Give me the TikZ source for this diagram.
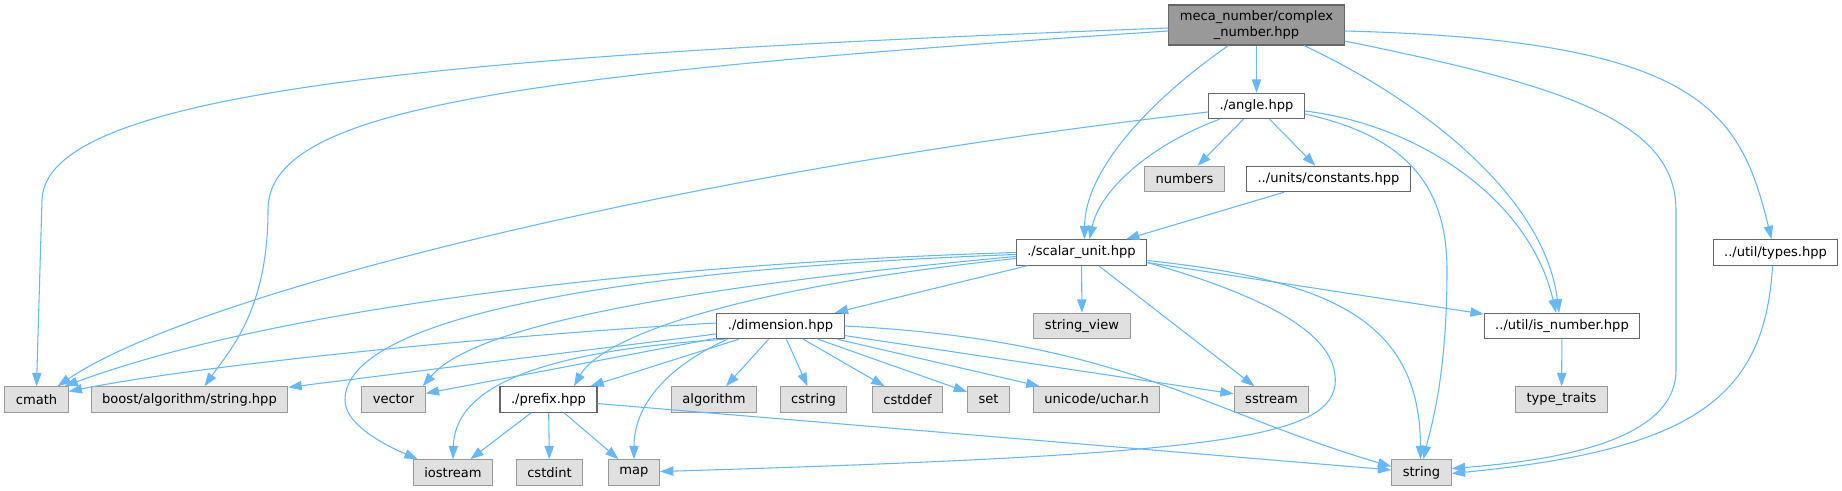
\documentclass[tikz,border=0pt]{standalone}
\usepackage{fontspec}
\setmainfont{DejaVu Sans}
\usetikzlibrary{arrows.meta,calc}
\definecolor{edgeblue}{HTML}{63B8FF}
\definecolor{extfill}{HTML}{E0E0E0}
\definecolor{extdraw}{HTML}{999999}
\definecolor{intdraw}{HTML}{666666}
\definecolor{rootfill}{HTML}{999999}
\tikzset{
    every node/.style={rectangle, draw=intdraw, fill=white, line width=0.8pt,
    	minimum height=19.1pt, inner xsep=8.25pt, inner ysep=0pt,
    	font=\fontsize{9.8}{12}\selectfont}
}
\tikzset{
    dep/.style={draw=edgeblue, line width=0.8pt,
    	-{Triangle[length=10pt,width=7pt]}},
    ext/.style={fill=extfill, draw=extdraw},
    root/.style={fill=rootfill, minimum height=30pt, align=center}
}
\tikzset{
    every edge/.append style={dep}
}

\begin{document}
\begin{tikzpicture}[x=0.75pt, y=-0.75pt]
	\useasboundingbox (0,0) rectangle (1842,491);
	\node (cn) [root] at (1256.5,25) {meca\_number/complex\\\_number.hpp};
	\node (angle) at (1256.5,106) {./angle.hpp};
	\node (numbers) [ext] at (1184.5,179) {numbers};
	\node (constants) at (1328.5,179) {../units/constants.hpp};
	\node (scalar) at (1081.5,252.5) {./scalar\_unit.hpp};
	\node (types) at (1775.5,252.5) {../util/types.hpp};
	\node (dimension) at (780.5,326) {./dimension.hpp};
	\node (strview) [ext] at (1082,326) {string\_view};
	\node (isnum) at (1562,326) {../util/is\_number.hpp};
	\node (cmath) [ext] at (36.5,399.5) {cmath};
	\node (boost) [ext] at (189.5,399.5) {boost/algorithm/string.hpp};
	\node (vector) [ext] at (393.5,399.5) {vector};
	\node (prefix) at (548.5,399.5) {./prefix.hpp};
	\node (algorithm) [ext] at (714,399.5) {algorithm};
	\node (cstring) [ext] at (813.5,399.5) {cstring};
	\node (cstddef) [ext] at (907.5,399.5) {cstddef};
	\node (set) [ext] at (988.5,399.5) {set};
	\node (uchar) [ext] at (1096.5,399.5) {unicode/uchar.h};
	\node (sstream) [ext] at (1271.5,399.5) {sstream};
	\node (traits) [ext] at (1561.5,399.5) {type\_traits};
	\node (iostream) [ext] at (453,472.5) {iostream};
	\node (cstdint) [ext] at (549.5,472.5) {cstdint};
	\node (map) [ext] at (634,472.5) {map};
	\node (string) [ext] at (1421.5,472.5) {string};

	% straight includes
	\draw (cn) edge (angle); \draw (angle) edge (numbers);
	\draw (angle) edge (constants); \draw (constants) edge (scalar);
	\draw (scalar) edge (dimension); \draw (scalar) edge (strview);
	\draw (scalar) edge (sstream); \draw (scalar) edge (isnum);
	\draw (dimension) edge (boost); \draw (dimension) edge (vector);
	\draw (dimension) edge (prefix); \draw (dimension) edge (algorithm);
	\draw (dimension) edge (cstring); \draw (dimension) edge (cstddef);
	\draw (dimension) edge (set); \draw (dimension) edge (uchar);
	\draw (dimension) edge (sstream);
	\draw (prefix) edge (iostream); \draw (prefix) edge (cstdint);
	\draw (prefix) edge (map); \draw (prefix) edge (string);
	\draw (isnum) edge (traits);

	% curved includes
	\draw[dep] ($(cn.west)+(0,3)$) .. controls (450,55) and (45,90) .. (42,200)
		-- (cmath.north);
	\draw[dep] ($(cn.west)+(0,6)$) .. controls (500,75) and (268,110) .. (268,210)
		.. controls (268,310) and (230,350) .. ($(boost.north)+(15,0)$);
	\draw[dep] ($(cn.south)+(-28,0)$) .. controls (1150,100) and (1085,170)
		.. ($(scalar.north)+(3,0)$);
	\draw[dep] ($(cn.south)+(47.5,0)$) .. controls (1430,105) and (1545,200)
		.. ($(isnum.north)+(-3,0)$);
	\draw[dep] ($(cn.east)+(0,16)$) .. controls (1560,85) and (1676,120) .. (1676,210)
		-- (1676,370) .. controls (1676,440) and (1560,460) .. ($(string.east)+(0,-4)$);
	\draw[dep] ($(cn.east)+(0,6)$) .. controls (1700,40) and (1740,110)
		.. ($(types.north)+(-4,0)$);
	\draw[dep] ($(angle.west)+(0,6)$) .. controls (700,170) and (200,290)
		.. ($(cmath.north)+(21,0)$);
	\draw[dep] ($(angle.south)+(-37,0)$) .. controls (1150,145) and (1100,190)
		.. ($(scalar.north)+(8,0)$);
	\draw[dep] ($(angle.east)+(0,5)$) .. controls (1420,125) and (1530,200)
		.. ($(isnum.north)+(-6,0)$);
	\draw[dep] ($(angle.east)+(0,8)$) .. controls (1400,135) and (1447,180) .. (1447,270)
		.. controls (1447,380) and (1430,430) .. ($(string.north)+(2,0)$);
	\draw[dep] (scalar.west) .. controls (700,262) and (300,300)
		.. ($(cmath.north)+(28,0)$);
	\draw[dep] ($(scalar.west)+(0,2)$) .. controls (600,270) and (345,320) .. (345,400)
		.. controls (345,425) and (385,445) .. ($(iostream.north west)+(5,0)$);
	\draw[dep] ($(scalar.west)+(0,4)$) .. controls (650,290) and (470,330)
		.. ($(vector.north east)+(-3,0)$);
	\draw[dep] ($(scalar.west)+(0,6)$) .. controls (720,290) and (600,340)
		.. ($(prefix.north)+(25.5,0)$);
	\draw[dep] ($(scalar.east)+(0,10)$) .. controls (1280,300) and (1340,340) .. (1335,385)
		.. controls (1328,440) and (1200,455) .. ($(map.east)+(0,-1)$);
	\draw[dep] ($(scalar.east)+(0,8)$) .. controls (1330,280) and (1420,320)
		.. ($(string.north)+(-1,0)$);
	\draw[dep] ($(dimension.west)+(0,-3)$) .. controls (500,335) and (200,365)
		.. ($(cmath.east)+(0,-8)$);
	\draw[dep] ($(dimension.south west)+(8,0)$) .. controls (560,350) and (455,380)
		.. (iostream.north);
	\draw[dep] ($(dimension.south west)+(11,0)$) .. controls (660,370) and (634,410)
		.. (map.north);
	\draw[dep] (dimension.east) .. controls (1120,340) and (1200,410)
		.. ($(string.west)+(0,-6)$);
	\draw[dep] ($(types.south)+(-3,0)$) .. controls (1765,400) and (1690,450)
		.. ($(string.east)+(0,1)$);
\end{tikzpicture}
\end{document}
